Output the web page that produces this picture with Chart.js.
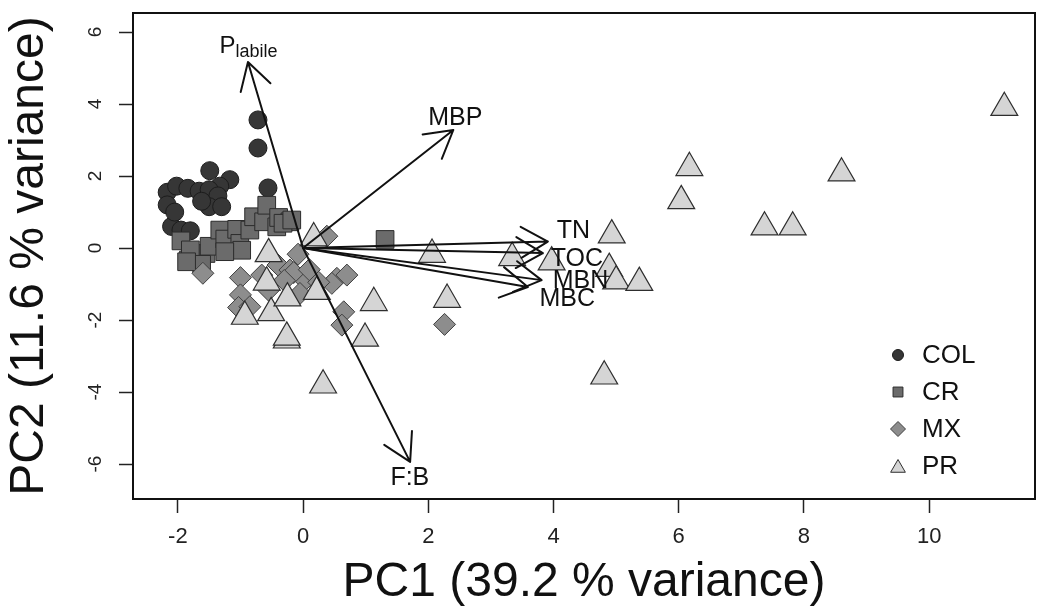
<!DOCTYPE html>
<html>
<head>
<meta charset="utf-8">
<script src="https://cdn.jsdelivr.net/npm/chart.js@4.4.1/dist/chart.umd.min.js"></script>
<style>
  html, body { margin: 0; padding: 0; background: #fff; overflow: hidden; }
  canvas { display: block; }
</style>
</head>
<body>
<canvas id="pca" width="1041" height="614"></canvas>
<script>
// site scores, per land use (PC1, PC2)
const colX = [-0.72, -0.72, -0.56, -1.49, -1.17, -1.33, -2.17, -2.02, -1.84, -1.66, -1.50, -1.36, -2.17, -2.10, -1.95, -1.80, -1.50, -1.62, -1.30, -2.05];
const colY = [3.56, 2.78, 1.67, 2.15, 1.90, 1.72, 1.55, 1.72, 1.66, 1.58, 1.62, 1.45, 1.20, 0.60, 0.50, 0.48, 1.15, 1.30, 1.15, 1.00];

const crX = [-1.95, -1.83, -1.55, -1.80, -1.50, -1.33, -1.25, -1.06, -1.01, -0.85, -0.98, -0.79, -0.63, -0.58, -0.42, -0.39, -0.21, -0.32, -0.18, 1.31, -1.25, -1.62, -1.86];
const crY = [0.20, -0.33, -0.15, -0.05, 0.05, 0.50, 0.25, 0.52, 0.13, 0.50, -0.06, 0.87, 0.73, 1.19, 0.59, 0.85, 0.73, 0.69, 0.78, 0.24, -0.10, -0.45, -0.38];

const mxX = [-1.60, -1.00, -1.00, -1.03, -0.85, -0.66, -0.55, -0.40, -0.21, -0.08, 0.03, -0.05, 0.54, 0.70, 0.65, 0.62, 0.38, 0.46, 2.26, -0.15, 0.10, 0.25, -0.30];
const mxY = [-0.70, -0.82, -1.30, -1.65, -1.63, -0.75, -1.17, -0.47, -0.61, -0.17, -0.89, -1.26, -0.84, -0.75, -1.77, -2.14, 0.33, -0.98, -2.12, -0.68, -0.60, -0.95, -0.90];

const prX = [11.20, 6.17, 6.04, 8.60, 7.37, 7.82, 4.93, 4.89, 5.00, 5.37, 4.81, 2.06, 3.34, 3.97, 2.30, 1.13, 0.99, 0.32, -0.26, -0.26, 0.17, -0.55, -0.58, -0.93, -0.51, -0.25, 0.22];
const prY = [3.90, 2.23, 1.31, 2.08, 0.58, 0.58, 0.36, -0.57, -0.92, -0.96, -3.56, -0.18, -0.27, -0.39, -1.43, -1.52, -2.51, -3.81, -2.56, -2.48, 0.28, -0.16, -0.95, -1.90, -1.80, -1.39, -1.21];

// variable loadings (arrow tips)
const varNames = ['P|labile', 'MBP', 'F:B', 'TN', 'TOC', 'MBN', 'MBC'];
const varX = [-0.88, 2.40, 1.71, 3.91, 3.83, 3.81, 3.59];
const varY = [5.17, 3.28, -5.94, 0.18, -0.14, -0.89, -1.08];

const xTicks = [-2, 0, 2, 4, 6, 8, 10];
const yTicks = [-6, -4, -2, 0, 2, 4, 6];
const groups = ['COL', 'CR', 'MX', 'PR'];

function pts(xs, ys) {
  return xs.map((v, i) => ({x: v, y: ys[i]}));
}

const FONT = "'Liberation Sans', Arial, sans-serif";
// small pixel nudges so labels don't sit on top of each other
const labelNudge = [[6, 3], [-13, 0], [-11, -5], [1, -10], [10, 5], [15, -2], [17, 8]];

const biplotExtras = {
  id: 'biplotExtras',
  afterDatasetsDraw(chart) {
    const {ctx, scales: {x, y}} = chart;
    const x0 = x.getPixelForValue(0), y0 = y.getPixelForValue(0);
    ctx.save();
    ctx.strokeStyle = '#111';
    ctx.lineWidth = 2;
    ctx.lineCap = 'round';
    for (let i = 0; i < varX.length; i++) {
      const tx = x.getPixelForValue(varX[i]);
      const ty = y.getPixelForValue(varY[i]);
      const ang = Math.atan2(ty - y0, tx - x0);
      ctx.beginPath();
      ctx.moveTo(x0, y0);
      ctx.lineTo(tx, ty);
      for (const s of [-1, 1]) {
        ctx.moveTo(tx, ty);
        ctx.lineTo(tx - 31 * Math.cos(ang + s * Math.PI / 6), ty - 31 * Math.sin(ang + s * Math.PI / 6));
      }
      ctx.stroke();
    }
    // labels sit a bit beyond the tips
    ctx.fillStyle = '#111';
    ctx.textBaseline = 'middle';
    for (let i = 0; i < varNames.length; i++) {
      const lx = x.getPixelForValue(varX[i] * 1.1) + labelNudge[i][0];
      const ly = y.getPixelForValue(varY[i] * 1.1) + labelNudge[i][1];
      const parts = varNames[i].split('|');
      if (parts.length === 2) {
        ctx.font = '24px ' + FONT;
        const w1 = ctx.measureText(parts[0]).width;
        ctx.font = '18px ' + FONT;
        const w2 = ctx.measureText(parts[1]).width;
        const sx = lx - (w1 + w2) / 2;
        ctx.textAlign = 'left';
        ctx.font = '24px ' + FONT;
        ctx.fillText(parts[0], sx, ly);
        ctx.font = '18px ' + FONT;
        ctx.fillText(parts[1], sx + w1, ly + 6);
      } else {
        ctx.font = '25px ' + FONT;
        ctx.textAlign = 'center';
        ctx.fillText(varNames[i], lx, ly);
      }
    }
    ctx.restore();
  },
  afterDraw(chart) {
    const {ctx, chartArea: a, scales: {y}} = chart;
    ctx.save();
    // plot box
    ctx.strokeStyle = '#111';
    ctx.lineWidth = 2;
    ctx.strokeRect(a.left, a.top, a.right - a.left, a.bottom - a.top);
    // rotated y tick labels
    ctx.fillStyle = '#222';
    ctx.font = '19px ' + FONT;
    ctx.textAlign = 'center';
    ctx.textBaseline = 'middle';
    y.ticks.forEach(t => {
      const py = y.getPixelForValue(t.value);
      ctx.save();
      ctx.translate(a.left - 37, py);
      ctx.rotate(-Math.PI / 2);
      ctx.fillText(String(t.value), 0, 0);
      ctx.restore();
    });
    // legend
    const lx = a.right - 137, ly0 = a.bottom - 144, step = 37;
    const sizes = [5.5, 7, 7.5, 8.5];
    chart.data.datasets.forEach((ds, i) => {
      const cy = ly0 + i * step;
      ctx.fillStyle = ds.backgroundColor;
      ctx.strokeStyle = ds.borderColor;
      ctx.lineWidth = 1;
      Chart.helpers.drawPoint(ctx, {pointStyle: ds.pointStyle, rotation: 0, radius: sizes[i], borderWidth: 1}, lx, cy + (i === 3 ? 2 : 0));
      ctx.fillStyle = '#111';
      ctx.font = '26px ' + FONT;
      ctx.textAlign = 'left';
      ctx.textBaseline = 'middle';
      ctx.fillText(ds.label, lx + 24, cy + 1);
    });
    ctx.restore();
  }
};

new Chart(document.getElementById('pca'), {
  type: 'scatter',
  data: {
    datasets: [
      {label: groups[0], data: pts(colX, colY), pointStyle: 'circle', pointRadius: 9, backgroundColor: '#363636', borderColor: '#1c1c1c', borderWidth: 1, order: 4},
      {label: groups[1], data: pts(crX, crY), pointStyle: 'rect', pointRadius: 12.5, backgroundColor: '#6b6b6b', borderColor: '#2c2c2c', borderWidth: 1, order: 3},
      {label: groups[2], data: pts(mxX, mxY), pointStyle: 'rectRot', pointRadius: 11, backgroundColor: '#8d8d8d', borderColor: '#404040', borderWidth: 1, order: 2},
      {label: groups[3], data: pts(prX, prY), pointStyle: 'triangle', pointRadius: 15.5, backgroundColor: '#d5d5d5', borderColor: '#2e2e2e', borderWidth: 1.2, order: 1}
    ]
  },
  options: {
    responsive: false,
    animation: false,
    devicePixelRatio: 1,
    layout: {autoPadding: false, padding: {top: 13, right: 6, left: 0, bottom: 0}},
    plugins: {legend: {display: false}, tooltip: {enabled: false}},
    scales: {
      x: {
        type: 'linear',
        min: -2.716, max: 11.69,
        afterBuildTicks: s => { s.ticks = xTicks.map(v => ({value: v})); },
        afterFit: s => { s.height = 115; s.paddingLeft = 0; s.paddingRight = 0; },
        border: {display: false},
        grid: {drawOnChartArea: false, drawTicks: true, tickLength: 14, tickColor: '#222', tickWidth: 1.5},
        ticks: {color: '#222', font: {family: FONT, size: 22}, padding: 11, maxRotation: 0},
        title: {display: true, text: 'PC1 (39.2 % variance)', color: '#111', font: {family: FONT, size: 48}, padding: {top: 0, bottom: 2}}
      },
      y: {
        type: 'linear',
        min: -6.97, max: 6.53,
        afterBuildTicks: s => { s.ticks = yTicks.map(v => ({value: v})); },
        afterFit: s => { s.width = 133; s.paddingTop = 0; s.paddingBottom = 0; },
        border: {display: false},
        grid: {drawOnChartArea: false, drawTicks: true, tickLength: 14, tickColor: '#222', tickWidth: 1.5},
        ticks: {display: false},
        title: {display: true, text: 'PC2 (11.6 % variance)', color: '#111', font: {family: FONT, size: 48, lineHeight: 1.1}, padding: {top: 3, bottom: 0}}
      }
    }
  },
  plugins: [biplotExtras]
});
</script>
</body>
</html>
